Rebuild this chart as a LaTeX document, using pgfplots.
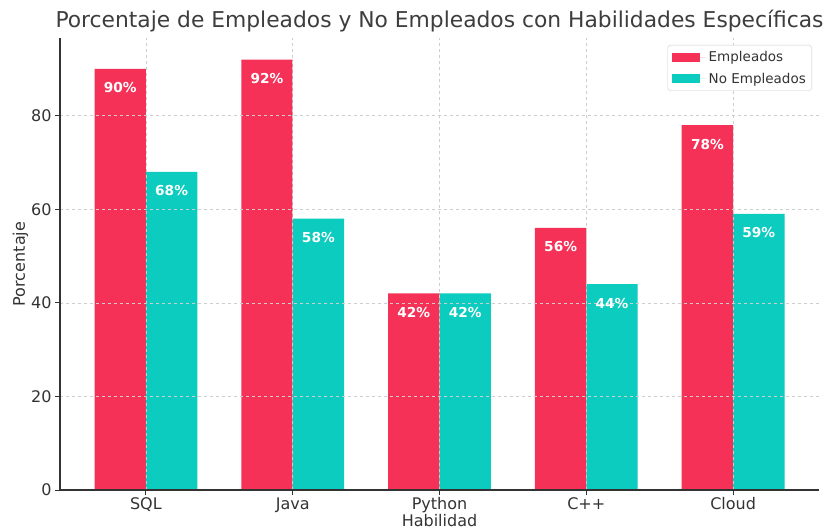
\documentclass[border=0pt]{standalone}
\usepackage{fontspec}
\setmainfont{DejaVu Sans}
\usepackage{pgfplots}
\pgfplotsset{compat=1.18}
\definecolor{cred}{RGB}{245,49,88}
\definecolor{cteal}{RGB}{11,204,191}
\definecolor{txt}{RGB}{51,51,51}
\definecolor{gridc}{RGB}{205,205,205}
\begin{document}
\begin{tikzpicture}
\path[use as bounding box] (-60pt,-41pt) rectangle (767pt,490pt);
\begin{axis}[
  at={(0pt,0pt)}, anchor=south west,
  scale only axis, width=759pt, height=452pt,
  xmin=-0.585, xmax=4.585, ymin=0, ymax=96.6,
  ybar=0pt, bar width=0.35,
  xtick={0,1,2,3,4},
  xticklabels={SQL,Java,Python,C++,Cloud},
  ytick={0,20,40,60,80},
  axis x line*=bottom, axis y line*=left,
  axis line style={txt, line width=1.1pt},
  tick style={txt, line width=1pt},
  tick align=outside, major tick length=5pt,
  ymajorgrids, xmajorgrids,
  grid style={gridc, dashed, line width=0.6pt},
  axis on top,
  /pgf/number format/assume math mode=true,
  ticklabel style={font=\fontsize{16}{18}\selectfont, text=txt},
  xticklabel style={yshift=1pt},
  xlabel={Habilidad}, ylabel={Porcentaje},
  label style={font=\fontsize{16}{18}\selectfont, text=txt},
  xlabel style={yshift=6pt},
  ylabel style={yshift=-4pt},
  title={Porcentaje de Empleados y No Empleados con Habilidades Específicas},
  title style={at={(0.5,1)}, anchor=base, yshift=4pt, font=\fontsize{21.8}{24}\selectfont, text=txt!95},
  legend style={at={(1,1)}, anchor=north east, xshift=-7pt, yshift=-7pt,
    font=\fontsize{13.5}{15}\selectfont, text=txt, draw=gridc, rounded corners=3pt,
    row sep=6pt, inner xsep=4pt, inner ysep=4pt},
  legend cell align=left,
  legend image code/.code={\fill[#1, sharp corners] (0pt,-4.5pt) rectangle (28pt,4.5pt); \path (0pt,0pt) -- (35pt,0pt);},
  nodes near coords={\pgfmathprintnumber{\pgfplotspointmeta}\%},
  point meta=y,
  every node near coord/.append style={anchor=center, yshift=-19pt, text=white, font=\bfseries\fontsize{13.7}{15}\selectfont, /pgf/number format/assume math mode=true},
]
\addplot[fill=cred, draw=none] coordinates {(0,90) (1,92) (2,42) (3,56) (4,78)};
\addplot[fill=cteal, draw=none] coordinates {(0,68) (1,58) (2,42) (3,44) (4,59)};
\legend{Empleados, No Empleados}
\end{axis}
\end{tikzpicture}
\end{document}
